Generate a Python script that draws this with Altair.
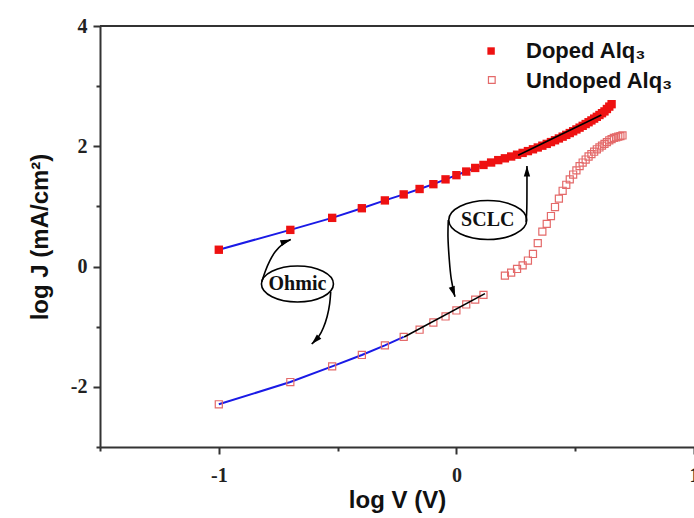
import altair as alt
import numpy as np
import pandas as pd

# Applied voltage steps (V) and measured log current density, log J (mA/cm^2)
doped_volts = [0.1, 0.2, 0.3, 0.4, 0.5, 0.6, 0.7, 0.8, 0.9, 1.0,
               1.1, 1.2, 1.3, 1.4, 1.5, 1.6, 1.7, 1.8, 1.9, 2.0,
               2.1, 2.2, 2.3, 2.4, 2.5, 2.6, 2.7, 2.8, 2.9, 3.0,
               3.1, 3.2, 3.3, 3.4, 3.5, 3.6, 3.7, 3.8, 3.9, 4.0,
               4.1, 4.2, 4.3, 4.4, 4.5]
doped_logj = [0.28, 0.61, 0.81, 0.97, 1.10, 1.20, 1.29, 1.37, 1.45, 1.52,
              1.58, 1.64, 1.69, 1.73, 1.77, 1.80, 1.83, 1.86, 1.89, 1.92,
              1.95, 1.98, 2.01, 2.04, 2.07, 2.10, 2.13, 2.16, 2.19, 2.22,
              2.25, 2.28, 2.31, 2.34, 2.37, 2.40, 2.43, 2.46, 2.49, 2.52,
              2.55, 2.58, 2.62, 2.66, 2.70]

undoped_volts = [0.1, 0.2, 0.3, 0.4, 0.5, 0.6, 0.7, 0.8, 0.9, 1.0,
                 1.1, 1.2, 1.3,
                 1.6, 1.7, 1.8, 1.9, 2.0, 2.1, 2.2, 2.3, 2.4, 2.5,
                 2.6, 2.7, 2.8, 2.9, 3.0, 3.1, 3.2, 3.3, 3.4, 3.5,
                 3.6, 3.7, 3.8, 3.9, 4.0, 4.1, 4.2, 4.3, 4.4, 4.5,
                 4.6, 4.7, 4.8, 4.9, 5.0]
undoped_logj = [-2.29, -1.92, -1.66, -1.47, -1.31, -1.17, -1.05, -0.93, -0.83, -0.73,
                -0.63, -0.55, -0.47,
                -0.15, -0.10, -0.04, 0.02, 0.10, 0.21, 0.39, 0.58, 0.71, 0.84,
                0.99, 1.13, 1.26, 1.36, 1.45, 1.53, 1.60, 1.67, 1.73, 1.78,
                1.83, 1.87, 1.91, 1.95, 1.98, 2.01, 2.04, 2.07, 2.10, 2.12,
                2.14, 2.15, 2.16, 2.17, 2.18]

# Ohmic regions (blue) run up to these voltages
doped_ohmic_max_v = 1.3
undoped_ohmic_max_v = 0.6

# Straight SCLC fits (black), as log V / log J end points
sclc_doped_x = [0.26, 0.61]
sclc_doped_y = [1.85, 2.52]
sclc_undoped_x = [-0.22, 0.12]
sclc_undoped_y = [-1.17, -0.45]

# Region labels and their callout arrows (log V / log J coordinates)
label_text = ["Ohmic", "SCLC"]
label_x = [-0.669, 0.132]
label_y = [-0.290, 0.774]
label_size = [5184, 6084]

arrow_id = ["o1"] * 6 + ["o2"] * 6 + ["s1"] * 4 + ["s2"] * 5
arrow_x = [-0.819, -0.806, -0.785, -0.764, -0.735, -0.697,
           -0.529, -0.532, -0.543, -0.560, -0.577, -0.609,
           0.293, 0.297, 0.297, 0.297,
           -0.034, -0.037, -0.030, -0.023, -0.006]
arrow_y = [-0.252, -0.086, 0.109, 0.247, 0.375, 0.449,
           -0.418, -0.611, -0.834, -1.027, -1.166, -1.288,
           0.742, 0.907, 1.439, 1.672,
           0.774, 0.496, 0.109, -0.224, -0.502]
head_x = [-0.697, -0.609, 0.297, -0.006]
head_y = [0.449, -1.288, 1.672, -0.502]
head_angle = [340, 135, 270, 72]

# Legend entries
legend_text = ["Doped Alq\u2083", "Undoped Alq\u2083"]
legend_mark_x = [0.146, 0.149]
legend_mark_y = [3.584, 3.102]
legend_text_x = [0.293, 0.293]
legend_text_y = [3.468, 2.969]

RED = "#ee1111"
PINK = "#e46a6a"
BLUE = "#1a1ae6"
AXIS = "#333333"

doped = pd.DataFrame({"V": doped_volts, "y": doped_logj})
doped["x"] = np.log10(doped["V"])
undoped = pd.DataFrame({"V": undoped_volts, "y": undoped_logj})
undoped["x"] = np.log10(undoped["V"])

x_axis = alt.Axis(
    title="log V (V)",
    values=[-1.5, -1, -0.5, 0, 0.5, 1],
    labelExpr="datum.value % 1 == 0 ? '' + datum.value : ''",
    tickSize={"condition": {"test": "datum.value % 1 != 0", "value": 4}, "value": 7},
    grid=False, labelFlush=False, labelOverlap=False,
    labelPadding=11, titlePadding=3,
)
y_axis = alt.Axis(
    title="log J (mA/cm\u00b2)",
    values=[-3, -2, -1, 0, 1, 2, 3, 4],
    labelExpr="datum.value % 2 == 0 ? '' + datum.value : ''",
    tickSize={"condition": {"test": "datum.value % 2 != 0", "value": 4}, "value": 7},
    grid=False, labelOverlap=False, labelPadding=6, titlePadding=18,
)
X = alt.X("x:Q", scale=alt.Scale(domain=[-1.5, 1.0], nice=False, zero=False), axis=x_axis)
Y = alt.Y("y:Q", scale=alt.Scale(domain=[-3, 4], nice=False, zero=False), axis=y_axis)

base_doped = alt.Chart(doped)
base_undoped = alt.Chart(undoped)

top_frame = alt.Chart(pd.DataFrame({"y": [4]})).mark_rule(color=AXIS, strokeWidth=2).encode(y=Y)

blue_doped = base_doped.transform_filter(f"datum.V <= {doped_ohmic_max_v}").mark_line(
    color=BLUE, strokeWidth=2).encode(x=X, y=Y)
blue_undoped = base_undoped.transform_filter(f"datum.V <= {undoped_ohmic_max_v}").mark_line(
    color=BLUE, strokeWidth=2).encode(x=X, y=Y)

doped_pts = base_doped.mark_point(shape="square", filled=True, size=70, color=RED, opacity=1).encode(x=X, y=Y)
undoped_pts = base_undoped.mark_point(shape="square", filled=False, size=50, color=PINK,
                                      strokeWidth=1.2, opacity=1).encode(x=X, y=Y)

fits = pd.DataFrame({
    "x": sclc_doped_x + sclc_undoped_x,
    "y": sclc_doped_y + sclc_undoped_y,
    "fit": ["d", "d", "u", "u"],
})
fit_lines = alt.Chart(fits).mark_line(color="black", strokeWidth=1.6).encode(x=X, y=Y, detail="fit:N")

arrows = pd.DataFrame({"id": arrow_id, "x": arrow_x, "y": arrow_y})
arrows["seq"] = arrows.groupby("id").cumcount()
arrow_lines = alt.Chart(arrows).mark_line(color="black", strokeWidth=1.6, interpolate="basis").encode(
    x=X, y=Y, detail="id:N", order="seq:Q")

heads = pd.DataFrame({"x": head_x, "y": head_y, "a": head_angle})
arrow_heads = alt.Chart(heads).mark_point(
    shape="M 0 0 L -2 -0.6 L -2 0.6 Z", filled=True, color="black", size=110, opacity=1
).encode(x=X, y=Y, angle=alt.Angle("a:Q", scale=None))

labels = pd.DataFrame({"t": label_text, "x": label_x, "y": label_y, "s": label_size})
ellipse_path = ("M -1 0 C -1 -0.276 -0.552 -0.5 0 -0.5 C 0.552 -0.5 1 -0.276 1 0 "
                "C 1 0.276 0.552 0.5 0 0.5 C -0.552 0.5 -1 0.276 -1 0 Z")
ellipses = alt.Chart(labels).mark_point(
    shape=ellipse_path, filled=False, color="black", strokeWidth=1.6, opacity=1
).encode(x=X, y=Y, size=alt.Size("s:Q", scale=None))
label_marks = alt.Chart(labels).mark_text(
    font="Liberation Serif", fontWeight="bold", fontSize=20, color="#111111", baseline="middle"
).encode(x=X, y=Y, text="t:N")

leg = pd.DataFrame({"t": legend_text, "mx": legend_mark_x, "my": legend_mark_y,
                    "x": legend_text_x, "y": legend_text_y, "k": ["d", "u"]})
leg_filled = alt.Chart(leg).transform_filter("datum.k == 'd'").transform_calculate(
    x="datum.mx", y="datum.my").mark_point(shape="square", filled=True, size=55, color=RED, opacity=1
).encode(x=X, y=Y)
leg_hollow = alt.Chart(leg).transform_filter("datum.k == 'u'").transform_calculate(
    x="datum.mx", y="datum.my").mark_point(shape="square", filled=False, size=45, color=PINK,
                                           strokeWidth=1.2, opacity=1).encode(x=X, y=Y)
leg_text = alt.Chart(leg).mark_text(
    font="Liberation Sans", fontWeight="bold", fontSize=22, color="#111111",
    align="left", baseline="alphabetic"
).encode(x=X, y=Y, text="t:N")

chart = alt.layer(
    top_frame, blue_doped, blue_undoped, doped_pts, undoped_pts, fit_lines,
    arrow_lines, arrow_heads, ellipses, label_marks, leg_filled, leg_hollow, leg_text
).properties(
    width=594, height=421,
    autosize=alt.AutoSizeParams(type="none"),
    padding={"left": 100, "top": 26, "right": 0, "bottom": 71},
).configure_view(stroke=None).configure_axis(
    domainColor=AXIS, domainWidth=2, tickColor=AXIS, tickWidth=2,
    labelFont="Liberation Serif", labelFontWeight="bold", labelFontSize=20, labelColor="#222222",
    titleFont="Liberation Sans", titleFontWeight="bold", titleFontSize=24, titleColor="#111111",
)

chart.save("out.html", embed_options={"renderer": "svg", "actions": False})
